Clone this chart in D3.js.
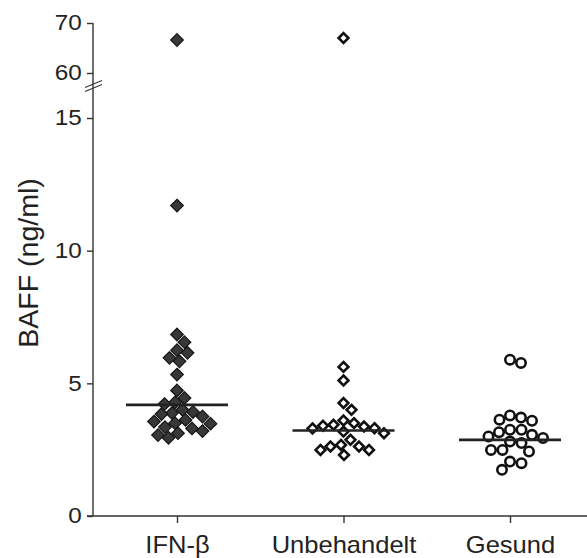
<!DOCTYPE html>
<html lang="en">
<head>
    <title>BAFF</title>
    <script src="https://d3js.org/d3.v7.min.js"></script>
    <style>
        body { margin: 0; background: #fff; }
        * { font-family: "Liberation Sans", Arial, sans-serif; }
        .axis path, .axis line { stroke: #333; stroke-width: 1.4; }
        .axis text { fill: #222; }
    </style>
</head>
<body>
<svg class="chart"></svg>

<script>
    // groups along the x axis
    const categories = ["IFN-β", "Unbehandelt", "Gesund"];

    // BAFF values (ng/ml), one array per group
    const ifnValues = [66.6, 11.7, 6.84, 6.55, 6.25, 6.15, 5.96, 5.83, 5.33, 4.73, 4.45,
                       4.28, 4.22, 4.0, 3.92, 3.88, 3.84, 3.75, 3.62, 3.56, 3.5, 3.48,
                       3.35, 3.3, 3.2, 3.12, 3.05, 2.95];
    const untreatedValues = [67.0, 5.62, 5.11, 4.26, 4.0, 3.6, 3.5, 3.44, 3.4, 3.37,
                             3.31, 3.3, 3.18, 3.12, 2.87, 2.68, 2.62, 2.62, 2.49, 2.49, 2.3];
    const healthyValues = [5.89, 5.77, 3.79, 3.71, 3.63, 3.59, 3.25, 3.25, 3.16,
                           3.06, 3.0, 2.94, 2.81, 2.75, 2.49, 2.49, 2.43, 2.05, 1.99, 1.74];

    // horizontal line per group
    const medians = [4.19, 3.22, 2.87];

    // tick labels of the two axis segments
    const lowTicks = [0, 5, 10, 15];
    const highTicks = [60, 70];

    const width = 587, height = 558;
    const axisX = 93;

    const svg = d3.select("svg.chart")
        .attr("width", width)
        .attr("height", height);

    const x = d3.scalePoint().domain(categories).range([177, 510]);
    const yLow = d3.scaleLinear().domain([0, 15]).range([516, 118]);
    const yHigh = d3.scaleLinear().domain([60, 70]).range([73, 23]);
    const y = v => v > 15 ? yHigh(v) : yLow(v);

    // simple beeswarm: place each point as close to the centre as it fits
    function swarm(values, dist) {
        const placed = [];
        values.map(v => ({v: v, y: y(v)}))
            .sort((a, b) => a.y - b.y)
            .forEach(p => {
                for (let k = 0; ; k++) {
                    const off = (k % 2 ? 1 : -1) * Math.ceil(k / 2) * 0.5;
                    if (placed.every(q => Math.hypot(q.dx - off, q.y - p.y) >= dist)) {
                        p.dx = off;
                        break;
                    }
                }
                placed.push(p);
            });
        return placed;
    }

    const diamond = r => `M0,${-r}L${r},0L0,${r}L${-r},0Z`;

    const groups = [
        {name: categories[0], values: ifnValues, shape: "diamond", fill: "#383838", stroke: "#151515", sw: 1.2, r: 6.3, dist: 10.5},
        {name: categories[1], values: untreatedValues, shape: "diamond", fill: "#fff", stroke: "#111", sw: 2.6, r: 4.9, dist: 10.5},
        {name: categories[2], values: healthyValues, shape: "circle", fill: "#fff", stroke: "#111", sw: 2.6, r: 4.7, dist: 11.2},
    ];

    // y axis, two segments
    const gLow = svg.append("g").attr("class", "axis")
        .attr("transform", `translate(${axisX},0)`)
        .call(d3.axisLeft(yLow).tickValues(lowTicks).tickSize(6).tickPadding(4));
    const gHigh = svg.append("g").attr("class", "axis")
        .attr("transform", `translate(${axisX},0)`)
        .call(d3.axisLeft(yHigh).tickValues(highTicks).tickSize(6).tickPadding(4));
    [gLow, gHigh].forEach(g => {
        g.select(".domain").remove();
        g.selectAll("text")
            .style("font-size", "21.5px")
            .attr("transform", "scale(1.13,1)");
    });

    // continuous axis line
    svg.append("line")
        .attr("x1", axisX).attr("x2", axisX)
        .attr("y1", yHigh(70)).attr("y2", yLow(0))
        .attr("stroke", "#333").attr("stroke-width", 1.4);

    // break marks
    const yb = yHigh(60) + 11;
    [0, 4].forEach(o => {
        svg.append("line")
            .attr("x1", axisX - 8).attr("y1", yb + o + 3.5)
            .attr("x2", axisX + 9).attr("y2", yb + o - 3.5)
            .attr("stroke", "#333").attr("stroke-width", 1.1);
    });

    // x axis
    const gx = svg.append("g").attr("class", "axis")
        .attr("transform", `translate(0,${yLow(0)})`)
        .call(d3.axisBottom(x).tickSize(7).tickPadding(0));
    gx.select(".domain").remove();
    gx.append("line")
        .attr("x1", axisX - 6).attr("x2", width)
        .attr("stroke", "#333").attr("stroke-width", 1.4);
    gx.selectAll(".tick text")
        .attr("y", 37).attr("dy", 0)
        .style("font-size", "23px")
        .attr("transform", "scale(1.11,1)");

    // y label
    svg.append("text")
        .attr("transform", `translate(38,263) rotate(-90) scale(1.19,1.12)`)
        .attr("text-anchor", "middle")
        .style("font-size", "24px")
        .attr("fill", "#222")
        .text("BAFF (ng/ml)");

    // points
    groups.forEach(g => {
        const pts = swarm(g.values, g.dist);
        const cx = x(g.name);
        const sel = svg.append("g").selectAll(".pt").data(pts).enter();
        if (g.shape === "diamond") {
            sel.append("path")
                .attr("d", diamond(g.r))
                .attr("transform", d => `translate(${cx + d.dx},${d.y})`)
                .attr("fill", g.fill).attr("stroke", g.stroke).attr("stroke-width", g.sw);
        } else {
            sel.append("circle")
                .attr("cx", d => cx + d.dx).attr("cy", d => d.y).attr("r", g.r)
                .attr("fill", g.fill).attr("stroke", g.stroke).attr("stroke-width", g.sw);
        }
    });

    // median lines
    svg.append("g").selectAll("line")
        .data(medians)
        .enter().append("line")
        .attr("x1", (d, i) => x(categories[i]) - 51)
        .attr("x2", (d, i) => x(categories[i]) + 51)
        .attr("y1", d => yLow(d)).attr("y2", d => yLow(d))
        .attr("stroke", "#222").attr("stroke-width", 2.6);
</script>
</body>
</html>
